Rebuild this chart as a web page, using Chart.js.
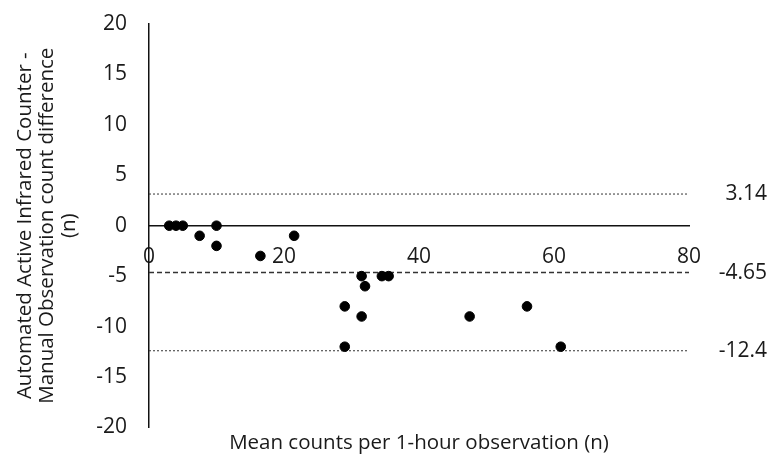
<!DOCTYPE html>
<html lang="en">

<head>
    <script src="https://cdn.jsdelivr.net/npm/chart.js"></script>
    <meta charset="UTF-8">
    <title>Bland-Altman</title>
    <style>
        html, body {
            margin: 0;
            padding: 0;
            background: #fff;
        }

        #wrap {
            width: 767px;
            height: 455px;
        }
    </style>
</head>

<body>
    <div id="wrap"><canvas id="baChart"></canvas></div>

    <script>
        // mean of the two counts (x) and counter - manual difference (y)
        const meanCounts = [3, 4, 5, 10, 7.5, 10, 16.5, 21.5, 29, 29, 31.5, 31.5, 32, 34.5, 35.5, 47.5, 56, 61];
        const countDiffs = [0, 0, 0, 0, -1, -2, -3, -1, -8, -12, -5, -9, -6, -5, -5, -9, -8, -12];

        // upper limit, mean bias, lower limit
        const limitValues = [3.14, -4.65, -12.4];
        const limitLabels = ['3.14', '-4.65', '-12.4'];
        const xRange = [0, 80];

        const font = 'Open Sans';
        const ink = '#1a1a1a';

        function limitLine(v, dash, width) {
            return {
                type: 'line',
                data: xRange.map(x => ({ x: x, y: v })),
                borderColor: '#333',
                borderWidth: width,
                borderDash: dash,
                pointRadius: 0,
                fill: false
            };
        }

        // drop the label overflow padding so the plot box sits where we want it
        function noOverflow(s) {
            s.paddingTop = 0;
            s.paddingBottom = 0;
        }

        new Chart(document.getElementById('baChart'), {
            type: 'scatter',
            data: {
                datasets: [
                    {
                        data: meanCounts.map((m, i) => ({ x: m, y: countDiffs[i] })),
                        backgroundColor: '#000',
                        borderColor: '#000',
                        pointRadius: 4.8,
                        pointHoverRadius: 4.8
                    },
                    limitLine(limitValues[0], [2, 2], 1),
                    limitLine(limitValues[1], [5, 3], 1.5),
                    limitLine(limitValues[2], [2, 2], 1)
                ]
            },
            options: {
                responsive: true,
                maintainAspectRatio: false,
                animation: false,
                layout: { padding: { top: 24, left: 0, right: 0, bottom: 0 } },
                plugins: {
                    legend: { display: false },
                    tooltip: { enabled: false },
                    title: {
                        display: true,
                        position: 'bottom',
                        fullSize: false,
                        text: 'Mean counts per 1-hour observation (n)',
                        color: ink,
                        font: { family: font, size: 20.5, weight: 'normal', lineHeight: 1.2 },
                        padding: { top: 3, bottom: 0 }
                    }
                },
                scales: {
                    x: {
                        type: 'linear',
                        position: { y: 0 },
                        min: 0,
                        max: 80,
                        grid: { display: false, drawTicks: false },
                        border: { display: true, color: '#111', width: 1.5 },
                        ticks: {
                            stepSize: 20,
                            padding: 19,
                            color: ink,
                            font: { family: font, size: 21 }
                        }
                    },
                    y: {
                        min: -20,
                        max: 20,
                        grid: { display: false, drawTicks: false },
                        border: { display: true, color: '#111', width: 1.5 },
                        ticks: {
                            stepSize: 5,
                            padding: 22,
                            color: ink,
                            font: { family: font, size: 21 }
                        },
                        title: {
                            display: true,
                            text: ['Automated Active Infrared Counter -', 'Manual Observation count difference', '(n)'],
                            color: ink,
                            font: { family: font, size: 20.5, lineHeight: 1.07 },
                            padding: { top: 14, bottom: 0 }
                        },
                        afterFit: s => { s.width = 149; noOverflow(s); }
                    },
                    y2: {
                        position: 'right',
                        min: -20,
                        max: 20,
                        grid: { display: false, drawTicks: false },
                        border: { display: false },
                        afterBuildTicks: s => { s.ticks = limitValues.map(v => ({ value: v })); },
                        ticks: {
                            padding: 28,
                            crossAlign: 'far',
                            color: ink,
                            font: { family: font, size: 21 },
                            callback: (v, i) => limitLabels[i]
                        },
                        afterFit: s => { s.width = 78; noOverflow(s); }
                    }
                }
            }
        });
    </script>
</body>

</html>
